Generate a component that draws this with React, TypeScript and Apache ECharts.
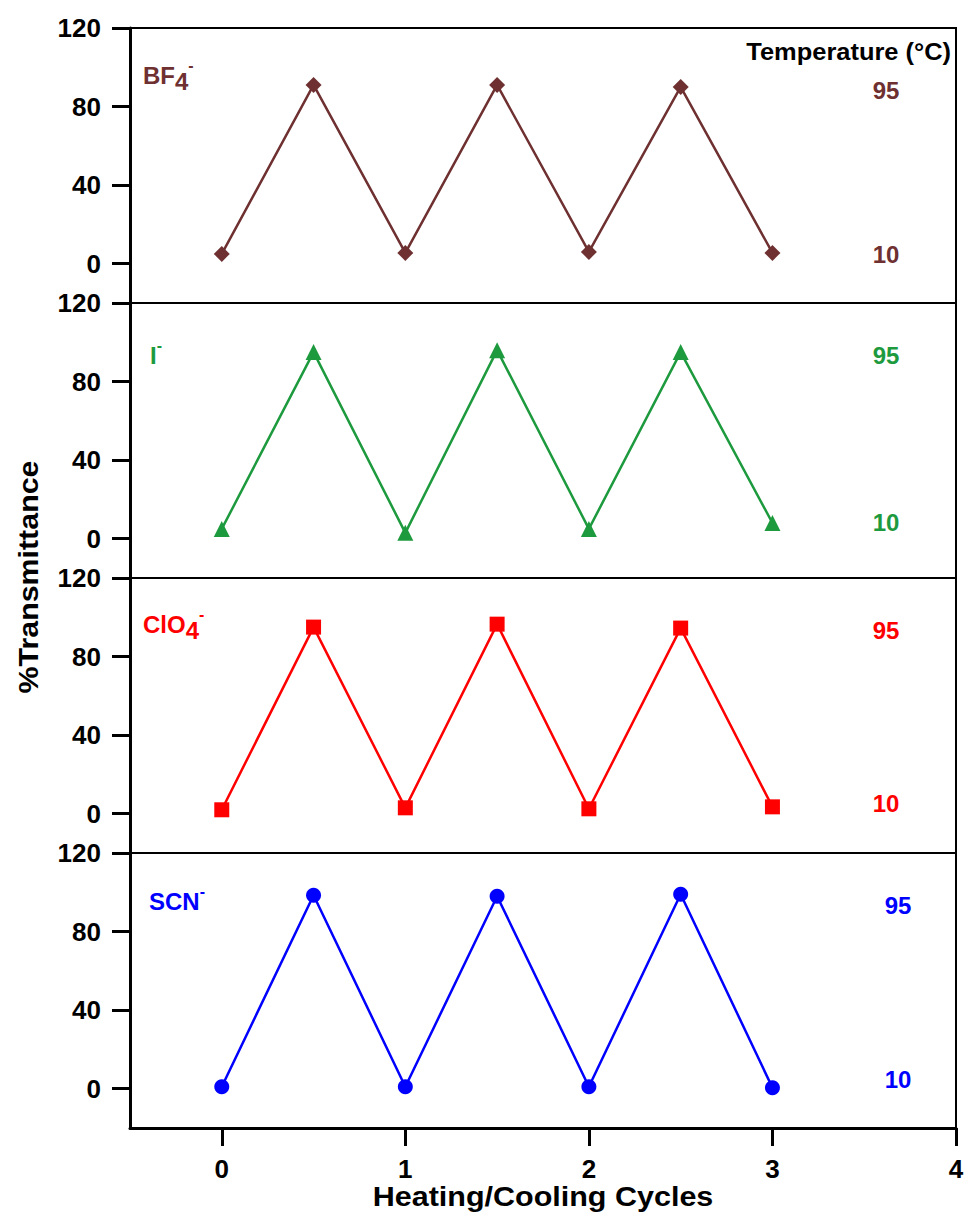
import React, { useEffect, useRef } from 'react';
import * as echarts from 'echarts';

const cycles = [0, 0.5, 1, 1.5, 2, 2.5, 3];
const bf4Values = [5, 91, 5.5, 91, 6, 90, 5.5];
const iodideValues = [5, 95, 3, 96, 5, 95, 8];
const clo4Values = [2, 95, 3, 96.5, 2.5, 94.5, 3.5];
const scnValues = [1, 98.5, 1, 98, 1, 99, 0.5];
const xTicks = [0, 1, 2, 3, 4];
const yTicks = [0, 40, 80, 120];
const tempHigh = '95';
const tempLow = '10';
const xTitle = 'Heating/Cooling Cycles';
const yTitle = '%Transmittance';
const tempTitle = 'Temperature (°C)';

const FONT = '"Liberation Sans", Arial, sans-serif';

export default function App() {
  const ref = useRef<HTMLDivElement>(null);
  useEffect(() => {
    const chart = echarts.init(ref.current!, null, { renderer: 'svg' });
    const panels = [
      { main: 'BF', sub: '4', color: '#6e3030', values: bf4Values, symbol: 'diamond', size: 16, lx: 143, ly: 75, tx: 886, hy: 90, ly2: 254 },
      { main: 'I', sub: '', color: '#1e9a3e', values: iodideValues, symbol: 'triangle', size: 16, lx: 150, ly: 355, tx: 886, hy: 355, ly2: 522 },
      { main: 'ClO', sub: '4', color: '#ff0000', values: clo4Values, symbol: 'rect', size: 15, lx: 143, ly: 624, tx: 886, hy: 630, ly2: 803 },
      { main: 'SCN', sub: '', color: '#0000ff', values: scnValues, symbol: 'circle', size: 15, lx: 149, ly: 901, tx: 898, hy: 905, ly2: 1079 },
    ];
    const tops = [28, 303, 578, 853];
    const h = 275;
    const last = panels.length - 1;

    const graphic: any[] = [];
    panels.forEach((p) => {
      const txt = p.sub ? `{b|${p.main}}{s|${p.sub}}{p|-}` : `{b|${p.main}}{p|-}`;
      graphic.push({
        type: 'text',
        x: p.lx,
        y: p.ly,
        style: {
          text: txt,
          align: 'left',
          verticalAlign: 'middle',
          rich: {
            b: { fontSize: 24, fontWeight: 'bold', fontFamily: FONT, fill: p.color, lineHeight: 36, verticalAlign: 'middle' },
            s: { fontSize: 24, fontWeight: 'bold', fontFamily: FONT, fill: p.color, lineHeight: 24, verticalAlign: 'bottom' },
            p: { fontSize: 16, fontWeight: 'bold', fontFamily: FONT, fill: p.color, lineHeight: 16, verticalAlign: 'top' },
          },
        },
      });
      graphic.push({
        type: 'text', x: p.tx, y: p.hy,
        style: { text: tempHigh, align: 'center', verticalAlign: 'middle', fill: p.color, font: `bold 24px ${FONT}` },
      });
      graphic.push({
        type: 'text', x: p.tx, y: p.ly2,
        style: { text: tempLow, align: 'center', verticalAlign: 'middle', fill: p.color, font: `bold 24px ${FONT}` },
      });
    });
    graphic.push({
      type: 'text', x: 951, y: 52, scaleX: 1.06,
      style: { text: tempTitle, align: 'right', verticalAlign: 'middle', fill: '#000', font: `bold 24px ${FONT}` },
    });
    graphic.push({
      type: 'text', x: 543, y: 1196, scaleX: 1.09,
      style: { text: xTitle, align: 'center', verticalAlign: 'middle', fill: '#000', font: `bold 28px ${FONT}` },
    });
    graphic.push({
      type: 'text', x: 28, y: 577, rotation: Math.PI / 2, scaleX: 1.085,
      style: { text: yTitle, align: 'center', verticalAlign: 'middle', fill: '#000', font: `bold 28px ${FONT}` },
    });

    chart.setOption({
      animation: false,
      backgroundColor: '#fff',
      grid: tops.map((t) => ({
        left: 130, width: 826, top: t, height: h,
        show: true, borderColor: '#000', borderWidth: 2, backgroundColor: 'transparent',
        outerBoundsMode: 'none', containLabel: false,
      })),
      xAxis: panels.map((_, i) => ({
        type: 'value', gridIndex: i, min: -0.5, max: 4,
        show: i === last,
        axisLine: { show: true, onZero: false, lineStyle: { color: '#000', width: 3 } },
        axisTick: { show: true, customValues: xTicks, length: 18, lineStyle: { color: '#000', width: 3 } },
        axisLabel: { show: true, customValues: xTicks, margin: 28, color: '#000', fontSize: 26, fontWeight: 'bold', fontFamily: FONT },
        splitLine: { show: false },
      })),
      yAxis: panels.map((_, i) => ({
        type: 'value', gridIndex: i, min: -20, max: 120,
        axisLine: { show: true, onZero: false, lineStyle: { color: '#000', width: 3 } },
        axisTick: { show: true, customValues: yTicks, length: 18, lineStyle: { color: '#000', width: 3 } },
        axisLabel: { show: true, customValues: yTicks, margin: 29, color: '#000', fontSize: 26, fontWeight: 'bold', fontFamily: FONT },
        splitLine: { show: false },
      })),
      series: panels.map((p, i) => ({
        type: 'line', xAxisIndex: i, yAxisIndex: i,
        data: cycles.map((x, j) => [x, p.values[j]]),
        symbol: p.symbol, symbolSize: p.size,
        lineStyle: { color: p.color, width: 2.5 },
        itemStyle: { color: p.color },
        z: 3,
      })),
      graphic,
    });
    return () => chart.dispose();
  }, []);
  return <div ref={ref} style={{ position: 'absolute', left: 0, top: 0, width: 966, height: 1220 }} />;
}
